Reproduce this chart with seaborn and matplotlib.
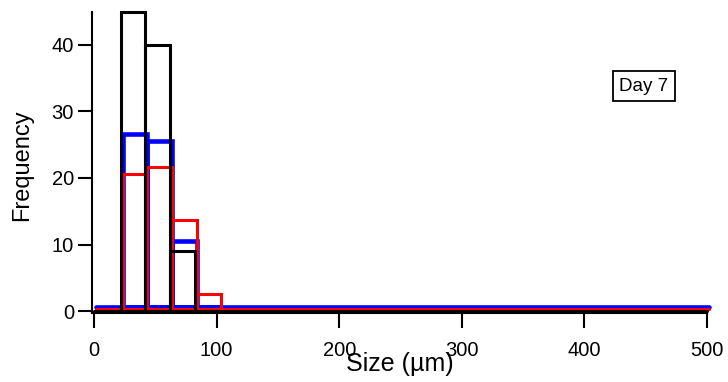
import numpy as np
import pandas as pd
import matplotlib
matplotlib.use("Agg")
import matplotlib.pyplot as plt
import matplotlib.transforms as mtransforms
from matplotlib import font_manager
import seaborn as sns

# ---- data ----
bin_edges = [22, 42, 62, 82, 102]
black_counts = [45, 40, 9, 0]
blue_counts = [26, 25, 10, 0]
red_counts = [20.3, 21.4, 13.4, 2.3]
x_range = [0, 500]
x_ticks = [0, 100, 200, 300, 400, 500]
y_ticks = [0, 10, 20, 30, 40]
label_text = "Day 7"

sns.set_style("white")
avail = {f.name for f in font_manager.fontManager.ttflist}
narrow = "Liberation Sans Narrow" if "Liberation Sans Narrow" in avail else "Liberation Sans"
plt.rcParams['font.family'] = ['Liberation Sans', 'DejaVu Sans']
plt.rcParams['text.color'] = 'black'
plt.rcParams['axes.labelcolor'] = 'black'
plt.rcParams['xtick.color'] = 'black'
plt.rcParams['ytick.color'] = 'black'

W, H = 728, 382
fig = plt.figure(figsize=(W / 100, H / 100), dpi=100)
ax = fig.add_axes([92 / W, (H - 313) / H, (707 - 92) / W, (313 - 12) / H])

centers = [(a + b) / 2 for a, b in zip(bin_edges[:-1], bin_edges[1:])]

series = [
    ("blue", blue_counts, "#0000ff", 3.3, (0.02, 0.04), 1),
    ("red", red_counts, "#ff0000", 2.2, (0.02, 0.02), 2),
    ("black", black_counts, "#000000", 2.2, (0.0, 0.0), 3),
]

for name, counts, color, lw, (dx, dy), z in series:
    offset = mtransforms.ScaledTranslation(dx, dy, fig.dpi_scale_trans)
    n_before = len(ax.patches)
    sns.histplot(x=centers, weights=counts, bins=bin_edges, fill=False,
                 element="bars", color=color, linewidth=lw, ax=ax)
    for p in ax.patches[n_before:]:
        p.set_transform(ax.transData + offset)
        p.set_edgecolor(color)
        p.set_linewidth(lw)
        p.set_zorder(z)
        p.set_clip_on(False)
        p.set_joinstyle("miter")
    n_lines = len(ax.lines)
    sns.lineplot(x=x_range, y=[0, 0], color=color, linewidth=lw, ax=ax)
    for ln in ax.lines[n_lines:]:
        ln.set_transform(ax.transData + offset)
        ln.set_zorder(z)
        ln.set_clip_on(False)

ax.set_xlim(-1.63, 500)
ax.set_ylim(-0.3, 44.96)
ax.set_xticks(x_ticks)
ax.set_yticks(y_ticks)

for s in ["top", "right"]:
    ax.spines[s].set_visible(False)
for s in ["left", "bottom"]:
    ax.spines[s].set_linewidth(1.5)
    ax.spines[s].set_color("black")

ax.tick_params(axis="x", direction="out", length=11, width=1.5, pad=9,
               labelsize=14.5, colors="black", bottom=True)
ax.tick_params(axis="y", direction="out", length=10, width=1.5, pad=3,
               labelsize=14.5, colors="black", left=True)

ax.set_xlabel("Size (µm)", fontsize=18, family=[narrow, 'DejaVu Sans'],
              color="black")
ax.xaxis.set_label_coords(0.5, -0.13)
ax.set_ylabel("Frequency", fontsize=17, color="black")
ax.yaxis.set_label_coords(-0.096, 0.49)

ax.text(0.8976, 0.754, label_text, transform=ax.transAxes, ha="center",
        va="center", fontsize=13.5, color="black",
        bbox=dict(boxstyle="square,pad=0.35", fc="white", ec="black", lw=1.3))

ax.grid(False)
fig.savefig("out.png", dpi=100)
